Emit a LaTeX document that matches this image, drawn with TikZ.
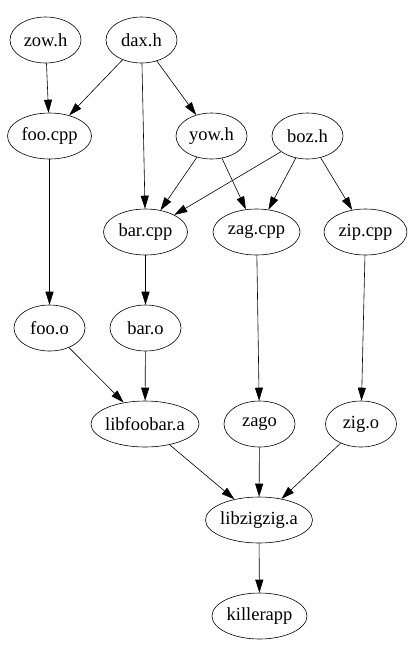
\documentclass[tikz,border=0pt]{standalone}
\usepackage{fontspec}
\setmainfont{Liberation Serif}
\usetikzlibrary{arrows.meta,shapes.geometric}
\tikzset{
  dep/.style={draw,ellipse,inner sep=0pt,minimum height=46pt,minimum width=71pt,
    font=\fontsize{18.5}{20}\selectfont,
    execute at begin node={\hbox to 0pt\bgroup\hss},
    execute at end node={\hss\egroup}},
  arr/.style={-{Triangle[length=13pt,width=8pt]},line width=0.6pt},
}
\begin{document}
\begin{tikzpicture}[x=1pt,y=-1pt,line width=0.6pt]
\useasboundingbox (0,0) rectangle (412,657);
% headers
\node[dep] (zowh) at (45.5,40) {zow.h};
\node[dep] (daxh) at (141.5,40) {dax.h};
\node[dep, minimum width=84pt] (foocpp) at (49.5,136) {foo.cpp};
\node[dep] (yowh) at (211.5,136) {yow.h};
\node[dep] (bozh) at (307.5,136) {boz.h};
% sources
\node[dep, minimum width=84pt] (barcpp) at (145.5,232) {bar.cpp};
\node[dep, minimum width=87pt] (zagcpp) at (256.5,232) {zag.cpp};
\node[dep, minimum width=83pt] (zipcpp) at (365.5,232) {zip.cpp};
% objects
\node[dep] (fooo) at (49.5,328) {foo.o};
\node[dep] (baro) at (145.5,328) {bar.o};
\node[dep, minimum width=108pt] (libfoobar) at (145,424) {libfoobar.a};
\node[dep] (zago) at (259.5,424) {zago};
\node[dep] (zigo) at (361,424) {zig.o};
\node[dep, minimum width=107pt] (libzigzig) at (259,520) {libzigzig.a};
\node[dep, minimum width=95pt] (killerapp) at (259.5,616) {killerapp};
% dependencies
\draw[arr] (zowh) -- (foocpp);
\draw[arr] (daxh) -- (foocpp);
\draw[arr] (daxh) -- (barcpp);
\draw[arr] (daxh) -- (yowh);
\draw[arr] (yowh) -- (barcpp);
\draw[arr] (yowh) -- (zagcpp);
\draw[arr] (bozh) -- (barcpp);
\draw[arr] (bozh) -- (zagcpp);
\draw[arr] (bozh) -- (zipcpp);
\draw[arr] (foocpp) -- (fooo);
\draw[arr] (barcpp) -- (baro);
\draw[arr] (zagcpp) -- (zago);
\draw[arr] (zipcpp) -- (zigo);
\draw[arr] (fooo) -- (libfoobar);
\draw[arr] (baro) -- (libfoobar);
\draw[arr] (libfoobar) -- (libzigzig);
\draw[arr] (zago) -- (libzigzig);
\draw[arr] (zigo) -- (libzigzig);
\draw[arr] (libzigzig) -- (killerapp);
\end{tikzpicture}
\end{document}
